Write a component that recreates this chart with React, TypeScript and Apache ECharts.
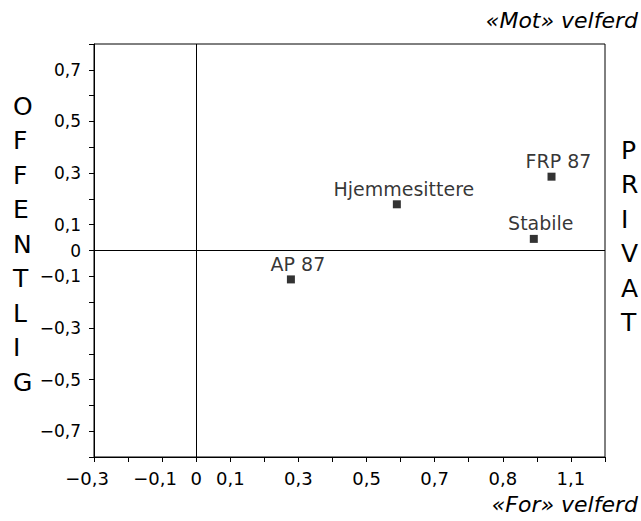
import React, { useEffect, useRef } from "react";
import * as echarts from "echarts";

// Data
const groupNames = ["AP 87", "Hjemmesittere", "Stabile", "FRP 87"];
const xValues = [0.278, 0.589, 0.991, 1.043];
const yValues = [-0.112, 0.179, 0.045, 0.286];

// Tick labels (as printed in the original figure)
const xTickValues = [-0.3, -0.1, 0, 0.1, 0.3, 0.5, 0.7, 0.9, 1.1];
const xTickLabels = ["−0,3", "−0,1", "0", "0,1", "0,3", "0,5", "0,7", "0,8", "1,1"];
const yTickValues = [0.7, 0.5, 0.3, 0.1, 0, -0.1, -0.3, -0.5, -0.7];
const yTickLabels = ["0,7", "0,5", "0,3", "0,1", "0", "−0,1", "−0,3", "−0,5", "−0,7"];

const leftTitle = "OFFENTLIG";
const rightTitle = "PRIVAT";
const topTitle = "«Mot» velferd";
const bottomTitle = "«For» velferd";

const FONT = "DejaVu Sans";
const INK = "#000";

function lookup(values: number[], labels: string[], v: number): string {
  const k = Math.round(v * 10);
  for (let i = 0; i < values.length; i++) {
    if (Math.round(values[i] * 10) === k) return labels[i];
  }
  return "";
}

export default function App() {
  const ref = useRef<HTMLDivElement>(null);

  useEffect(() => {
    if (!ref.current) return;
    const chart = echarts.init(ref.current, undefined, { renderer: "svg" });
    const data = groupNames.map((n, i) => ({ name: n, value: [xValues[i], yValues[i]] }));

    chart.setOption({
      animation: false,
      backgroundColor: "#fff",
      textStyle: { fontFamily: FONT, color: INK },
      grid: {
        left: 94,
        right: 36,
        top: 44,
        bottom: 64,
        show: true,
        borderColor: INK,
        borderWidth: 1,
      },
      xAxis: {
        type: "value",
        min: -0.3,
        max: 1.2,
        interval: 0.1,
        splitLine: { show: false },
        axisLine: { show: true, onZero: false, lineStyle: { color: INK, width: 1 } },
        axisTick: { show: true, length: 5, lineStyle: { color: INK, width: 1 } },
        axisLabel: {
          show: true,
          margin: 12,
          fontFamily: FONT,
          fontSize: 18,
          color: INK,
          showMinLabel: true,
          showMaxLabel: true,
          formatter: (v: number) => {
            const s = lookup(xTickValues, xTickLabels, v);
            if (!s) return "";
            return s.startsWith("−") ? "{m|" + s + "}" : s;
          },
          rich: {
            m: { fontFamily: FONT, fontSize: 18, color: INK, padding: [0, 14, 0, 0] },
          },
        },
      },
      yAxis: {
        type: "value",
        min: -0.8,
        max: 0.8,
        interval: 0.1,
        splitLine: { show: false },
        axisLine: { show: true, onZero: false, lineStyle: { color: INK, width: 1 } },
        axisTick: { show: true, length: 5, lineStyle: { color: INK, width: 1 } },
        axisLabel: {
          show: true,
          margin: 13,
          fontFamily: FONT,
          fontSize: 17,
          color: INK,
          showMinLabel: true,
          showMaxLabel: true,
          formatter: (v: number) => lookup(yTickValues, yTickLabels, v),
        },
      },
      series: [
        {
          type: "scatter",
          data,
          symbol: "rect",
          symbolSize: 8,
          itemStyle: { color: INK },
          label: {
            show: true,
            position: "top",
            distance: 2,
            offset: [7, 0],
            formatter: (p: any) => p.name,
            fontFamily: FONT,
            fontSize: 19,
            color: INK,
          },
          markLine: {
            silent: true,
            symbol: "none",
            label: { show: false },
            lineStyle: { color: INK, width: 1, type: "solid" },
            data: [{ xAxis: 0 }, { yAxis: 0 }],
          },
        },
      ],
      graphic: [
        {
          type: "text",
          left: 13,
          top: 89,
          style: {
            text: leftTitle.split("").join("\n"),
            fontFamily: FONT,
            fontSize: 25,
            lineHeight: 34.5,
            fill: INK,
            align: "center",
            width: 28,
          },
        },
        {
          type: "text",
          left: 621,
          top: 133,
          style: {
            text: rightTitle.split("").join("\n"),
            fontFamily: FONT,
            fontSize: 25,
            lineHeight: 34.5,
            fill: INK,
            align: "center",
            width: 28,
          },
        },
        {
          type: "text",
          right: 3,
          top: 9,
          style: {
            text: topTitle,
            fontFamily: FONT,
            fontStyle: "italic",
            fontSize: 22,
            fill: INK,
          },
        },
        {
          type: "text",
          right: 3,
          top: 493,
          style: {
            text: bottomTitle,
            fontFamily: FONT,
            fontStyle: "italic",
            fontSize: 22,
            fill: INK,
          },
        },
      ],
    });

    return () => chart.dispose();
  }, []);

  return (
    <div
      ref={ref}
      style={{ position: "fixed", left: 0, top: 0, width: 641, height: 521, background: "#fff" }}
    />
  );
}
